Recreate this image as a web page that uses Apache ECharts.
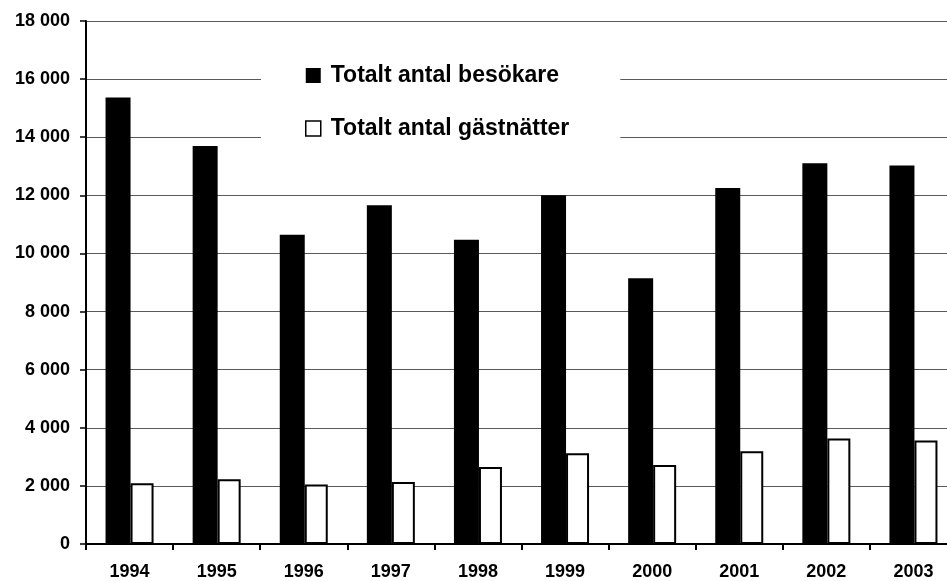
<!DOCTYPE html>
<html>
<head>
<meta charset="utf-8">
<script src="https://cdn.jsdelivr.net/npm/echarts@6/dist/echarts.min.js"></script>
<style>
html,body{margin:0;padding:0;background:#fff;overflow:hidden;}
#chart{width:947px;height:581px;}
</style>
</head>
<body>
<div id="chart"></div>
<script>
const years = ['1994','1995','1996','1997','1998','1999','2000','2001','2002','2003'];
const besokare = [15370, 13700, 10640, 11660, 10470, 12000, 9150, 12250, 13100, 13030];
const gastnatter = [2090, 2230, 2050, 2130, 2650, 3120, 2720, 3190, 3630, 3560];
const seriesNames = ['Totalt antal besökare', 'Totalt antal gästnätter'];

const FONT = '"Liberation Sans", Arial, sans-serif';
const chart = echarts.init(document.getElementById('chart'), null, {renderer: 'canvas'});
chart.setOption({
  backgroundColor: '#ffffff',
  animation: false,
  grid: {left: 86, width: 871, top: 21, bottom: 37, containLabel: false, outerBoundsMode: 'none'},
  legend: {
    orient: 'vertical',
    left: 261,
    top: 40,
    padding: [24, 51, 20, 44],
    backgroundColor: '#ffffff',
    itemWidth: 15,
    itemHeight: 15,
    itemGap: 30,
    z: 10,
    textStyle: {fontFamily: FONT, fontWeight: 'bold', fontSize: 23, color: '#000', padding: [0, 0, 0, 5]},
    data: [
      {name: seriesNames[0], icon: 'rect', itemStyle: {color: '#000', borderWidth: 0}},
      {name: seriesNames[1], icon: 'rect', itemStyle: {color: '#fff', borderColor: '#000', borderWidth: 1.5}}
    ]
  },
  xAxis: {
    type: 'category',
    data: years,
    axisLine: {lineStyle: {color: '#000', width: 2}},
    axisTick: {show: true, inside: false, length: 6, lineStyle: {color: '#000', width: 2}},
    axisLabel: {fontFamily: FONT, fontWeight: 'bold', fontSize: 18, color: '#000', margin: 19},
    splitLine: {show: false}
  },
  yAxis: {
    type: 'value',
    min: 0, max: 18000, interval: 2000,
    axisLine: {show: true, lineStyle: {color: '#000', width: 2}},
    axisTick: {show: true, inside: false, length: 6, lineStyle: {color: '#000', width: 1.5}},
    axisLabel: {
      fontFamily: FONT, fontWeight: 'bold', fontSize: 18, color: '#000', margin: 16,
      formatter: v => String(v).replace(/\B(?=(\d{3})+(?!\d))/g, ' ')
    },
    splitLine: {show: true, lineStyle: {color: '#5a5a5a', width: 1}}
  },
  series: [
    {
      name: seriesNames[0], type: 'bar', data: besokare,
      barWidth: 25, barGap: '0%',
      itemStyle: {color: '#000'}
    },
    {
      name: seriesNames[1], type: 'bar', data: gastnatter,
      barWidth: 23,
      itemStyle: {color: '#fff', borderColor: '#000', borderWidth: 2}
    }
  ]
});
</script>
</body>
</html>
